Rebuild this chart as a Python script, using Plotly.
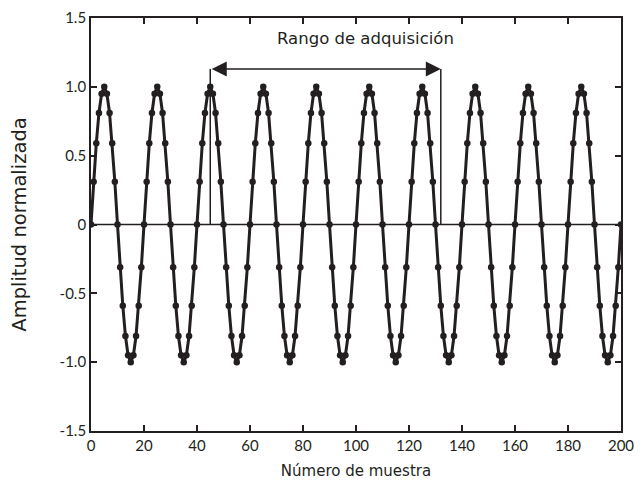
import plotly.graph_objects as go

# Sample index 0..200
sample_index = list(range(0, 201))

# Normalized amplitude (period of 20 samples)
amplitude = [
    0.00, 0.31, 0.59, 0.81, 0.95, 1.00, 0.95, 0.81, 0.59, 0.31, 0.00, -0.31, -0.59, -0.81, -0.95, -1.00, -0.95, -0.81, -0.59, -0.31,
    0.00, 0.31, 0.59, 0.81, 0.95, 1.00, 0.95, 0.81, 0.59, 0.31, 0.00, -0.31, -0.59, -0.81, -0.95, -1.00, -0.95, -0.81, -0.59, -0.31,
    0.00, 0.31, 0.59, 0.81, 0.95, 1.00, 0.95, 0.81, 0.59, 0.31, 0.00, -0.31, -0.59, -0.81, -0.95, -1.00, -0.95, -0.81, -0.59, -0.31,
    0.00, 0.31, 0.59, 0.81, 0.95, 1.00, 0.95, 0.81, 0.59, 0.31, 0.00, -0.31, -0.59, -0.81, -0.95, -1.00, -0.95, -0.81, -0.59, -0.31,
    0.00, 0.31, 0.59, 0.81, 0.95, 1.00, 0.95, 0.81, 0.59, 0.31, 0.00, -0.31, -0.59, -0.81, -0.95, -1.00, -0.95, -0.81, -0.59, -0.31,
    0.00, 0.31, 0.59, 0.81, 0.95, 1.00, 0.95, 0.81, 0.59, 0.31, 0.00, -0.31, -0.59, -0.81, -0.95, -1.00, -0.95, -0.81, -0.59, -0.31,
    0.00, 0.31, 0.59, 0.81, 0.95, 1.00, 0.95, 0.81, 0.59, 0.31, 0.00, -0.31, -0.59, -0.81, -0.95, -1.00, -0.95, -0.81, -0.59, -0.31,
    0.00, 0.31, 0.59, 0.81, 0.95, 1.00, 0.95, 0.81, 0.59, 0.31, 0.00, -0.31, -0.59, -0.81, -0.95, -1.00, -0.95, -0.81, -0.59, -0.31,
    0.00, 0.31, 0.59, 0.81, 0.95, 1.00, 0.95, 0.81, 0.59, 0.31, 0.00, -0.31, -0.59, -0.81, -0.95, -1.00, -0.95, -0.81, -0.59, -0.31,
    0.00, 0.31, 0.59, 0.81, 0.95, 1.00, 0.95, 0.81, 0.59, 0.31, 0.00, -0.31, -0.59, -0.81, -0.95, -1.00, -0.95, -0.81, -0.59, -0.31,
    0.00,
]

x_tick_vals = [0, 20, 40, 60, 80, 100, 120, 140, 160, 180, 200]
y_tick_vals = [-1.5, -1.0, -0.5, 0, 0.5, 1.0, 1.5]
y_tick_text = ["-1.5", "-1.0", "-0.5", "0", "0.5", "1.0", "1.5"]

acq_start = 45
acq_end = 132
acq_level = 1.13
acq_label = "Rango de adquisición"
acq_label_pos = (103.5, 1.35)

INK = "#231f20"
TICK_FONT = "Lato, sans-serif"
TEXT_FONT = "'DejaVu Sans', sans-serif"

fig = go.Figure()

# zero reference line
fig.add_trace(go.Scatter(
    x=[0, 200], y=[0, 0], mode="lines",
    line=dict(color=INK, width=1.5), hoverinfo="skip", showlegend=False,
))

fig.add_trace(go.Scatter(
    x=sample_index, y=amplitude, mode="lines+markers",
    line=dict(color=INK, width=3),
    marker=dict(color=INK, size=6.5),
    showlegend=False,
))

# vertical markers of acquisition range
for xv in (acq_start, acq_end):
    fig.add_trace(go.Scatter(
        x=[xv, xv], y=[0, acq_level], mode="lines",
        line=dict(color=INK, width=1.5), hoverinfo="skip", showlegend=False,
    ))

fig.add_annotation(
    x=acq_end, y=acq_level, ax=acq_start, ay=acq_level,
    xref="x", yref="y", axref="x", ayref="y",
    text="", showarrow=True, arrowside="end+start",
    arrowhead=2, startarrowhead=2, arrowsize=2, startarrowsize=2,
    arrowwidth=1.5, arrowcolor=INK,
)

fig.add_annotation(
    x=acq_label_pos[0], y=acq_label_pos[1], xref="x", yref="y",
    text=acq_label, showarrow=False,
    font=dict(family=TEXT_FONT, size=16.5, color=INK),
)

axis_common = dict(
    showgrid=False, zeroline=False, showline=True, linecolor=INK, linewidth=1.8,
    mirror="ticks", ticks="inside", ticklen=6, tickwidth=1.5, tickcolor=INK,
    tickfont=dict(family=TICK_FONT, size=15, color=INK),
    automargin=False, ticklabeloverflow="allow",
)

fig.update_xaxes(
    range=[0, 200], tickvals=x_tick_vals,
    title=dict(text="Número de muestra", font=dict(family=TEXT_FONT, size=15, color=INK), standoff=13),
    **axis_common,
)
fig.update_yaxes(
    range=[-1.5, 1.5], tickvals=y_tick_vals, ticktext=y_tick_text,
    title=dict(text="Amplitud normalizada", font=dict(family=TEXT_FONT, size=19.5, color=INK), standoff=28),
    **axis_common,
)

fig.update_layout(
    width=635, height=478,
    margin=dict(l=83, r=22, t=10, b=55, autoexpand=False),
    plot_bgcolor="white", paper_bgcolor="white",
    font=dict(family=TICK_FONT, color=INK),
)

fig.write_html("out.html")
